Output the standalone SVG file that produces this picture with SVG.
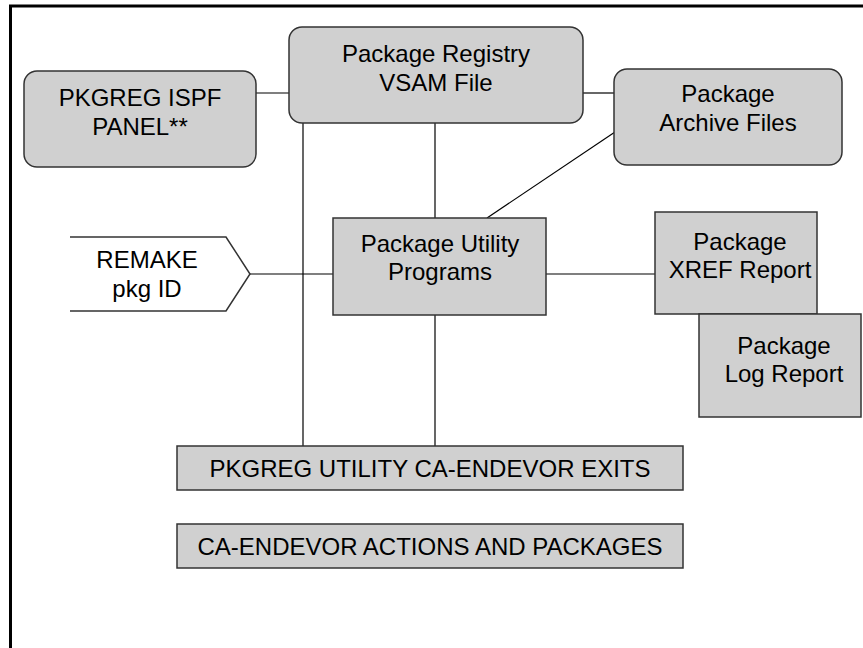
<svg xmlns="http://www.w3.org/2000/svg" width="863" height="648" viewBox="0 0 863 648">
<style>
.box{fill:#d0d0d0;stroke:#333;stroke-width:1.5}
.t{font-family:"Liberation Sans",Arial,sans-serif;font-size:24px;fill:#000;text-anchor:middle}
.c{stroke:#000;stroke-width:1.2;fill:none}
</style>
<rect width="863" height="648" fill="#fff"/>
<g id="frame"><path d="M10.5,648 V6 H863" fill="none" stroke="#000" stroke-width="3"/></g>
<g id="connectors">
<line class="c" x1="256" y1="93" x2="289" y2="93"/>
<line class="c" x1="583" y1="93" x2="614" y2="93"/>
<line class="c" x1="303" y1="123" x2="303" y2="446"/>
<line class="c" x1="435" y1="123" x2="435" y2="218"/>
<line class="c" x1="435" y1="315" x2="435" y2="446"/>
<line class="c" x1="615" y1="132" x2="487" y2="218"/>
<line class="c" x1="250" y1="274" x2="333" y2="274"/>
<line class="c" x1="546" y1="274" x2="655" y2="274"/>
</g>
<g id="ispf-panel"><rect class="box" x="24" y="71" width="232" height="96" rx="13"/><text class="t" x="140" y="106">PKGREG ISPF</text><text class="t" x="140" y="135">PANEL**</text></g>
<g id="registry"><rect class="box" x="289" y="27" width="294" height="96" rx="13"/><text class="t" x="436" y="62">Package Registry</text><text class="t" x="436" y="91">VSAM File</text></g>
<g id="archive"><rect class="box" x="614" y="69" width="228" height="96" rx="13"/><text class="t" x="728" y="102">Package</text><text class="t" x="728" y="131">Archive Files</text></g>
<g id="remake"><path d="M70,237 H226 L250,274 L226,311 H70" fill="#fff" stroke="#333" stroke-width="1.5"/><text class="t" x="147" y="268">REMAKE</text><text class="t" x="147" y="297">pkg ID</text></g>
<g id="utility"><rect class="box" x="333" y="218" width="213" height="97"/><text class="t" x="440" y="252">Package Utility</text><text class="t" x="440" y="280">Programs</text></g>
<g id="xref"><rect class="box" x="655" y="212" width="162" height="102"/><text class="t" x="740" y="250">Package</text><text class="t" x="740" y="278">XREF Report</text></g>
<g id="log"><rect class="box" x="699" y="314" width="162" height="103"/><text class="t" x="784" y="354">Package</text><text class="t" x="784" y="382">Log Report</text></g>
<g id="exits"><rect class="box" x="177" y="446" width="506" height="44"/><text class="t" x="430" y="477">PKGREG UTILITY CA-ENDEVOR EXITS</text></g>
<g id="actions"><rect class="box" x="177" y="524" width="506" height="44"/><text class="t" x="430" y="555">CA-ENDEVOR ACTIONS AND PACKAGES</text></g>
</svg>
